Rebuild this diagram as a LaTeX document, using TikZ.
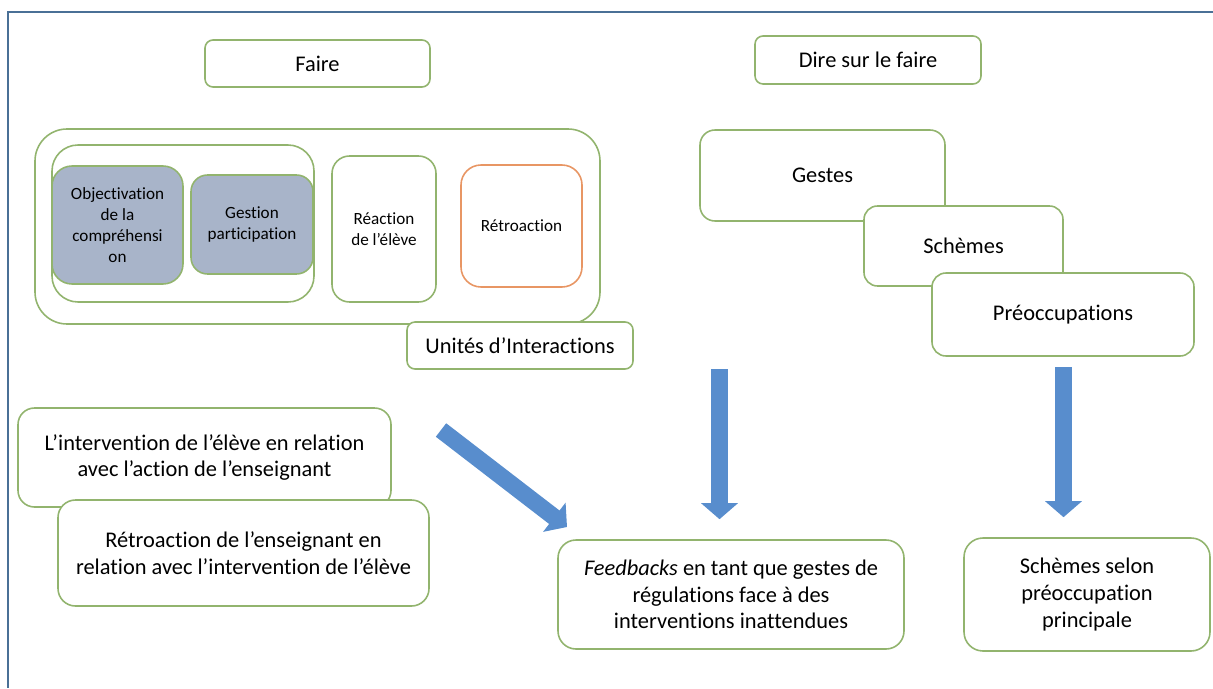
\documentclass[tikz,border=0pt]{standalone}
\usepackage{fontspec}
\setmainfont[Ligatures=NoCommon]{Carlito}
\usepackage{tikz}
\usetikzlibrary{arrows.meta}
\definecolor{boxgreen}{RGB}{146,180,110}
\definecolor{retroorange}{RGB}{232,150,100}
\definecolor{greyblue}{RGB}{168,180,201}
\definecolor{arrowblue}{RGB}{88,141,205}
\definecolor{framecol}{RGB}{74,112,150}
\newcommand{\mainfont}{\fontsize{12.75}{15.2}\selectfont}
\newcommand{\smallfont}{\fontsize{9.75}{12}\selectfont}

\begin{document}
\begin{tikzpicture}[line width=0.9pt]
		\tikzstyle{box}=[rectangle, rounded corners=0.3cm, draw=boxgreen, fill=white, inner sep=0pt, align=center, font=\mainfont]
		\tikzstyle{inbox}=[box, font=\smallfont]
		\tikzstyle{bigarrow}=[draw=arrowblue, line width=0.34cm, -{Triangle[width=0.72cm,length=0.32cm]}]

		\useasboundingbox (0,0) rectangle (24.26,13.76);

		% Draw frame
		\draw[framecol, line width=1.7pt] (24.26,13.52) -- (0.16,13.52) -- (0.16,0);

		% Draw titles
		\node[box,minimum width=4.5cm,minimum height=0.94cm,rounded corners=0.16cm] (faire) at (6.35,12.49) {Faire};
		\node[box,minimum width=4.52cm,minimum height=0.96cm,rounded corners=0.16cm] (dire) at (17.36,12.56) {Dire sur le faire};

		% Draw interaction units
		\node[box,minimum width=11.3cm,minimum height=3.9cm,rounded corners=0.64cm] (units) at (6.35,9.23) {};
		\node[box,minimum width=5.24cm,minimum height=3.14cm,rounded corners=0.52cm] (group) at (3.66,9.29) {};
		\node[inbox,fill=greyblue,minimum width=2.62cm,minimum height=2.36cm,rounded corners=0.4cm] (objectiv) at (2.35,9.26) {Objectivation\\de la\\compréhensi\\on};
		\node[inbox,fill=greyblue,minimum width=2.44cm,minimum height=1.98cm,rounded corners=0.33cm] (gestion) at (5.04,9.27) {Gestion\\participation};
		\node[inbox,minimum width=2.08cm,minimum height=2.92cm,rounded corners=0.35cm] (reaction) at (7.68,9.18) {Réaction\\de l’élève};
		\node[inbox,draw=retroorange,minimum width=2.42cm,minimum height=2.44cm,rounded corners=0.4cm] (retro) at (10.43,9.24) {Rétroaction};
		\node[box,minimum width=4.52cm,minimum height=0.94cm,rounded corners=0.16cm] (unitslabel) at (10.4,6.85) {Unités d’Interactions};

		% Draw gestures
		\node[box,minimum width=4.9cm,minimum height=1.82cm] (gestes) at (16.45,10.25) {Gestes};
		\node[box,minimum width=3.98cm,minimum height=1.6cm,rounded corners=0.27cm] (schemes) at (19.27,8.84) {Schèmes};
		\node[box,minimum width=5.24cm,minimum height=1.66cm,rounded corners=0.28cm] (preocc) at (21.26,7.47) {Préoccupations};

		% Draw interventions
		\node[box,minimum width=7.46cm,minimum height=1.98cm,rounded corners=0.33cm] (interv) at (4.09,4.61) {L’intervention de l’élève en relation\\avec l’action de l’enseignant};
		\node[box,minimum width=7.42cm,minimum height=2.12cm,rounded corners=0.35cm] (retroens) at (4.87,2.7) {Rétroaction de l’enseignant en\\relation avec l’intervention de l’élève};

		% Draw results
		\node[box,minimum width=6.92cm,minimum height=2.18cm,rounded corners=0.36cm] (feedback) at (14.62,1.87) {\textit{Feedbacks} en tant que gestes de\\régulations face à des\\interventions inattendues};
		\node[box,minimum width=4.92cm,minimum height=2.26cm,rounded corners=0.38cm] (selon) at (21.74,1.87) {Schèmes selon\\préoccupation\\principale};

		% Draw arrows
		\coordinate (tail0) at (8.82,5.16);
		\coordinate (head0) at (11.34,3.22);
		\coordinate (tail1) at (14.39,6.38);
		\coordinate (tail2) at (21.27,6.42);
		\draw[bigarrow] (tail0) -- (head0);
		\draw[bigarrow, shorten >=0.4cm] (tail1) -- (tail1 |- feedback.north);
		\draw[bigarrow, shorten >=0.4cm] (tail2) -- (tail2 |- selon.north);

		\end{tikzpicture}
\end{document}
